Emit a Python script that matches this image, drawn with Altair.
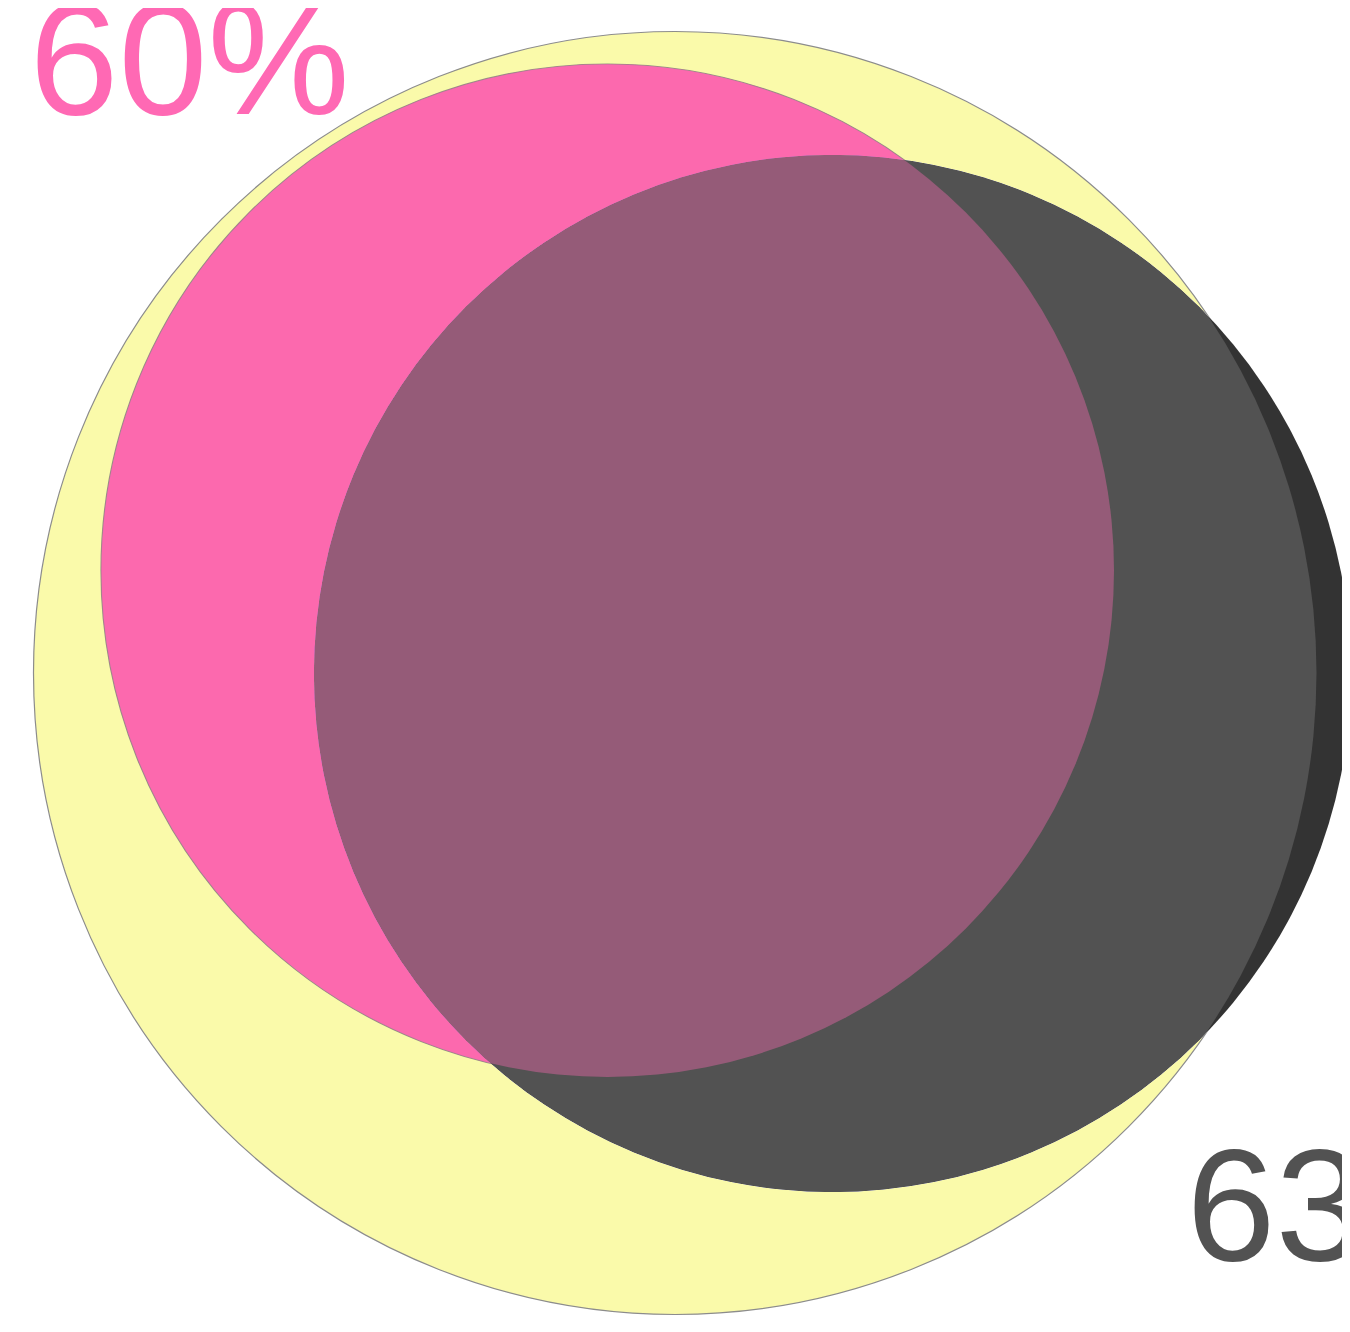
import altair as alt
import pandas as pd

# Venn circles (centre / radius, in page pixel units)
circle_names = ["universe", "set_a", "set_b"]
circle_cx = [675.0, 607.5, 832.5]
circle_cy = [673.0, 570.5, 673.5]
circle_r = [641.5, 506.5, 518.5]

# Labels
label_texts = ["60%", "63%"]
label_x = [29.5, 1186.5]
label_y = [113.5, 1259.5]

W, H = 1334, 1316

circles = pd.DataFrame({"name": circle_names, "cx": circle_cx, "cy": circle_cy, "r": circle_r})
labels = pd.DataFrame({"label": label_texts, "lx": label_x, "ly": label_y})

xs = alt.Scale(domain=[8, 8 + W], range=[0, W], zero=False, nice=False)
ys = alt.Scale(domain=[8, 8 + H], range=[0, H], zero=False, nice=False)


def circ(name, **mk):
    return (
        alt.Chart(circles)
        .transform_filter(alt.datum.name == name)
        .transform_calculate(sz="4*datum.r*datum.r")
        .mark_point(shape="circle", filled=True, opacity=1, **mk)
        .encode(
            x=alt.X("cx:Q", scale=xs, axis=None),
            y=alt.Y("cy:Q", scale=ys, axis=None),
            size=alt.Size("sz:Q", scale=None, legend=None),
        )
    )


bg = alt.Chart(pd.DataFrame({"a": [0]})).mark_rect(color="white").encode(
    x=alt.value(0), x2=alt.value(W), y=alt.value(0), y2=alt.value(H)
)

dark_outer = circ("set_b", fill="#333333")
dark_inner = circ("universe", fill="#525252", blend="lighten")
yellow = circ("universe", fill="#FAFAAA", stroke="#8c8c8c", strokeWidth=1.2, blend="darken")
pink_base = circ("set_a", fill="#FF69B4", stroke="#7a7a7a", strokeWidth=1.2, strokeOpacity=0.8, blend="darken")
pink_top = circ("set_a", fill="#FF69B4", fillOpacity=0.39)

text = alt.Chart(labels).mark_text(
    align="left", baseline="alphabetic", font="Liberation Sans", fontSize=160
).encode(
    x=alt.X("lx:Q", scale=xs, axis=None),
    y=alt.Y("ly:Q", scale=ys, axis=None),
    text="label:N",
    color=alt.Color("label:N", scale=alt.Scale(domain=label_texts, range=["#FF69B4", "#525252"]), legend=None),
)

chart = (
    alt.layer(bg, dark_outer, dark_inner, yellow, pink_base, pink_top, text)
    .properties(width=W, height=H, autosize=alt.AutoSizeParams(type="none"), padding=0)
    .configure_view(stroke=None)
)

chart.save("out.html", embed_options={"renderer": "svg", "actions": False})
